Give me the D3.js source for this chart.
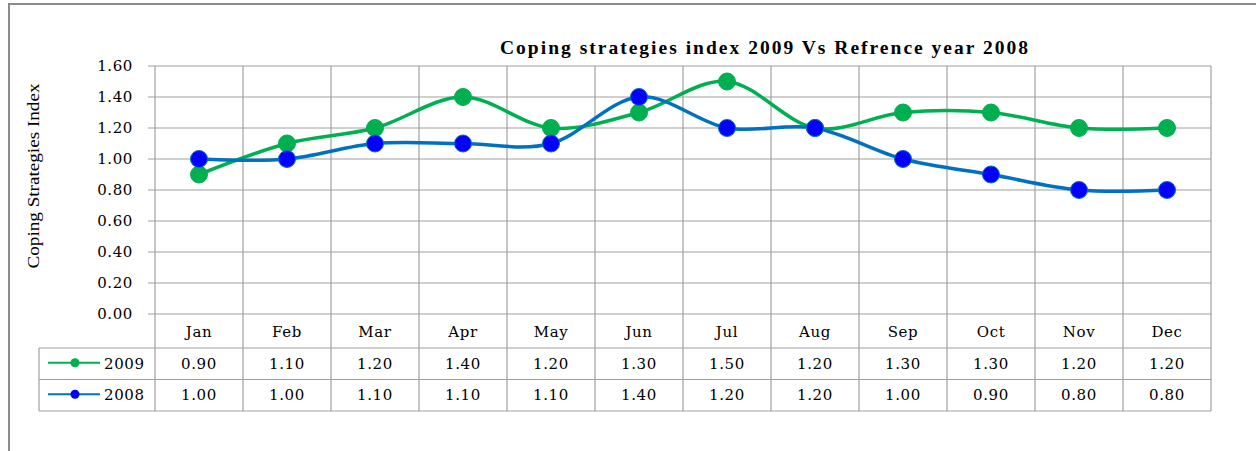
<!DOCTYPE html>
<html>
<head>
<meta charset="utf-8">
<script src="https://cdn.jsdelivr.net/npm/d3@7"></script>
<style>
  body { margin: 0; background: #fff; }
  svg text { fill: #000; }
</style>
</head>
<body>
<div id="chart"></div>
<script>
// data
const months = ["Jan", "Feb", "Mar", "Apr", "May", "Jun", "Jul", "Aug", "Sep", "Oct", "Nov", "Dec"];
const values2009 = [0.90, 1.10, 1.20, 1.40, 1.20, 1.30, 1.50, 1.20, 1.30, 1.30, 1.20, 1.20];
const values2008 = [1.00, 1.00, 1.10, 1.10, 1.10, 1.40, 1.20, 1.20, 1.00, 0.90, 0.80, 0.80];
const yTicks = [0, 0.2, 0.4, 0.6, 0.8, 1.0, 1.2, 1.4, 1.6];

const series = [
  { name: "2009", values: values2009, line: "#00b050", dot: "#00b050" },
  { name: "2008", values: values2008, line: "#0070c0", dot: "#0000ff" }
];

const W = 1256, H = 451;
const plot = { left: 155, right: 1211, top: 66, bottom: 314 };
const rowH = 31.5, headH = 34;
const tableLeft = 39;
const numFont = "'DejaVu Serif', serif";

const svg = d3.select("#chart").append("svg")
  .attr("width", W).attr("height", H);

// outer frame (only top and left edges show)
svg.append("path")
  .attr("d", `M9,${H} V4 H${W}`)
  .attr("fill", "none").attr("stroke", "#8c8c8c").attr("stroke-width", 2);

const x = d3.scaleBand().domain(months).range([plot.left, plot.right]);
const y = d3.scaleLinear().domain([0, 1.6]).range([plot.bottom, plot.top]);

const tableBottom = plot.bottom + headH + rowH * 2;
const grid = svg.append("g").attr("stroke", "#a0a0a0").attr("stroke-width", 1.2);

// horizontal grid
grid.selectAll("line.h").data(yTicks).enter().append("line")
  .attr("x1", plot.left - 7).attr("x2", plot.right)
  .attr("y1", d => y(d)).attr("y2", d => y(d));

// vertical lines: category borders, running down through the table
const borders = months.map(m => x(m)).concat([plot.right]);
grid.selectAll("line.v").data(borders).enter().append("line")
  .attr("x1", d => d).attr("x2", d => d)
  .attr("y1", plot.top).attr("y2", tableBottom);

// table rows
[plot.bottom + headH, plot.bottom + headH + rowH, tableBottom].forEach(yy => {
  grid.append("line").attr("x1", tableLeft).attr("x2", plot.right).attr("y1", yy).attr("y2", yy);
});
grid.append("line").attr("x1", tableLeft).attr("x2", tableLeft)
  .attr("y1", plot.bottom + headH).attr("y2", tableBottom);

const numText = sel => sel
  .style("font-family", numFont).style("font-size", "15px").style("letter-spacing", "0.6px");

// y tick labels
svg.append("g").selectAll("text").data(yTicks).enter().append("text")
  .attr("x", 133).attr("y", d => y(d) + 5)
  .attr("text-anchor", "end")
  .call(numText)
  .text(d => d3.format(".2f")(d));

// month labels
svg.append("g").selectAll("text").data(months).enter().append("text")
  .attr("x", d => x(d) + x.bandwidth() / 2).attr("y", plot.bottom + headH / 2 + 6)
  .attr("text-anchor", "middle")
  .call(numText)
  .text(d => d);

// table value rows with legend keys
series.forEach((s, i) => {
  const cy = plot.bottom + headH + rowH * i + rowH / 2;
  svg.append("g").selectAll("text").data(s.values).enter().append("text")
    .attr("x", (d, j) => x(months[j]) + x.bandwidth() / 2).attr("y", cy + 5)
    .attr("text-anchor", "middle")
    .call(numText)
    .text(d => d3.format(".2f")(d));
  svg.append("line").attr("x1", 48).attr("x2", 100).attr("y1", cy - 1).attr("y2", cy - 1)
    .attr("stroke", s.line).attr("stroke-width", 2);
  svg.append("circle").attr("cx", 75).attr("cy", cy - 1).attr("r", 4.5).attr("fill", s.dot);
  svg.append("text").attr("x", 104).attr("y", cy + 5)
    .call(numText)
    .text(s.name);
});

// lines and markers
const line = d3.line()
  .x((d, i) => x(months[i]) + x.bandwidth() / 2)
  .y(d => y(d))
  .curve(d3.curveCatmullRom.alpha(0));

series.forEach(s => {
  svg.append("path").datum(s.values)
    .attr("d", line).attr("fill", "none")
    .attr("stroke", s.line).attr("stroke-width", 3.5);
});
series.forEach(s => {
  svg.append("g").selectAll("circle").data(s.values).enter().append("circle")
    .attr("cx", (d, i) => x(months[i]) + x.bandwidth() / 2)
    .attr("cy", d => y(d)).attr("r", 8.5)
    .attr("fill", s.dot).attr("stroke", s.line).attr("stroke-width", 1);
});

// title
svg.append("text")
  .attr("x", 764).attr("y", 54).attr("text-anchor", "middle")
  .attr("textLength", 528).attr("lengthAdjust", "spacing")
  .style("font-family", "'Liberation Serif', serif").style("font-weight", "bold").style("font-size", "19.5px")
  .text("Coping strategies index 2009 Vs Refrence year 2008");

// y axis title
svg.append("text")
  .attr("transform", "translate(39,176) rotate(-90)")
  .attr("text-anchor", "middle")
  .attr("textLength", 185).attr("lengthAdjust", "spacingAndGlyphs")
  .style("font-family", "'Liberation Serif', serif").style("font-size", "17px")
  .text("Coping Strategies Index");
</script>
</body>
</html>
